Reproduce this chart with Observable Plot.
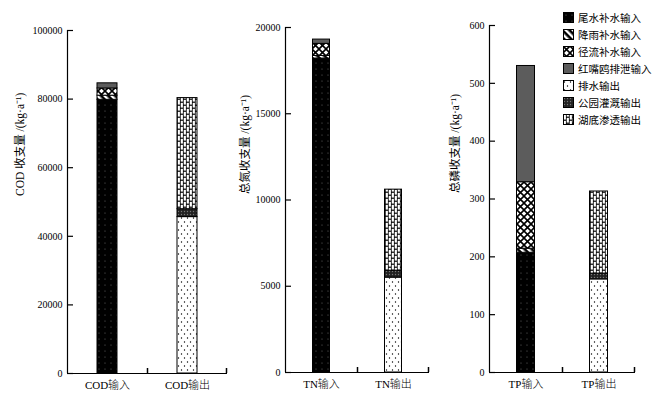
<!DOCTYPE html>
<html><head><meta charset="utf-8">
<script src="https://cdn.jsdelivr.net/npm/d3@7"></script>
<script src="https://cdn.jsdelivr.net/npm/@observablehq/plot@0.6"></script>
<style>
body{margin:0;background:#fff;}
#wrap{position:relative;width:655px;height:399px;overflow:hidden;background:#fff;font-family:"Liberation Serif","Noto Sans CJK SC",serif;}
.panel{position:absolute;top:0;}
#legend{position:absolute;left:563px;top:9px;font-size:10.5px;line-height:17px;color:#000;font-family:"Noto Sans CJK SC",sans-serif;}
#legend div{display:flex;align-items:center;height:17px;}
#legend svg{margin-right:4px;}
</style></head>
<body>
<svg width="0" height="0" style="position:absolute">
<defs>
<pattern id="p0" width="6" height="6" patternUnits="userSpaceOnUse"><rect width="6" height="6" fill="#000"/><circle cx="3" cy="3" r="0.6" fill="#666"/></pattern>
<pattern id="p1" width="5" height="5" patternUnits="userSpaceOnUse" patternTransform="rotate(-45)"><rect width="5" height="5" fill="#000"/><rect width="2.4" height="5" fill="#fff"/></pattern>
<pattern id="p2" width="7" height="7" patternUnits="userSpaceOnUse"><rect width="7" height="7" fill="#fff"/><path d="M0,0L7,7M7,0L0,7" stroke="#000" stroke-width="1.6"/></pattern>
<pattern id="p3" width="4" height="4" patternUnits="userSpaceOnUse"><rect width="4" height="4" fill="#5c5c5c"/></pattern>
<pattern id="p4" width="6" height="8" patternUnits="userSpaceOnUse"><rect width="6" height="8" fill="#fff"/><circle cx="1.5" cy="2" r="0.7" fill="#000"/><circle cx="4.5" cy="6" r="0.7" fill="#000"/></pattern>
<pattern id="p5" width="3" height="3" patternUnits="userSpaceOnUse"><rect width="3" height="3" fill="#222"/><circle cx="1.5" cy="1.5" r="0.7" fill="#777"/></pattern>
<pattern id="p6" width="6" height="12" patternUnits="userSpaceOnUse"><rect width="6" height="12" fill="#000"/><rect x="0.7" y="0.8" width="2.2" height="4.8" fill="#fff"/><rect x="0.7" y="6.8" width="2.2" height="4.8" fill="#fff"/><rect x="3.7" y="-2.2" width="2.2" height="4.8" fill="#fff"/><rect x="3.7" y="3.8" width="2.2" height="4.8" fill="#fff"/><rect x="3.7" y="9.8" width="2.2" height="4.8" fill="#fff"/></pattern>
</defs>
</svg>
<div id="wrap"><div id="legend"></div></div>
<script>
const series = ["尾水补水输入","降雨补水输入","径流补水输入","红嘴鸥排泄输入","排水输出","公园灌溉输出","湖底渗透输出"];
const fills = series.map((_, i) => `url(#p${i})`);

const codCats = ["COD输入","COD输出"];
const codIn = [79800, 1200, 2100, 1500];
const codOut = [45600, 2300, 32400];
const codTicks = [0, 20000, 40000, 60000, 80000, 100000];
const codLabel = "COD 收支量 /(kg·a⁻¹)";

const tnCats = ["TN输入","TN输出"];
const tnIn = [18200, 150, 700, 250];
const tnOut = [5500, 400, 4700];
const tnTicks = [0, 5000, 10000, 15000, 20000];
const tnLabel = "总氮收支量 /(kg·a⁻¹)";

const tpCats = ["TP输入","TP输出"];
const tpIn = [207, 7, 115, 201];
const tpOut = [161, 10, 142];
const tpTicks = [0, 100, 200, 300, 400, 500, 600];
const tpLabel = "总磷收支量 /(kg·a⁻¹)";

function panel({cats, inVals, outVals, ticks, label, left, width, ml, mr, mt, mb, inset, labelDx}) {
  const rows = [
    ...inVals.map((v, i) => ({cat: cats[0], series: series[i], value: v})),
    ...outVals.map((v, i) => ({cat: cats[1], series: series[4 + i], value: v}))
  ];
  const H = 399;
  const frameH = H - mt - mb;
  const frameW = width - ml - mr;
  const yMax = ticks[ticks.length - 1];
  const tickLen = yMax * 5 / frameH;
  const font = '"Liberation Serif","Noto Sans CJK SC",serif';
  const p = Plot.plot({
    width, height: H,
    marginLeft: ml, marginRight: mr, marginTop: mt, marginBottom: mb,
    style: {background: "transparent", fontFamily: font, color: "#000"},
    x: {domain: cats, padding: 0, label: null},
    y: {domain: [0, yMax], label: null},
    color: {domain: series, range: fills},
    marks: [
      Plot.barY(rows, {x: "cat", y: "value", fill: "series", stroke: "#000", strokeWidth: 1, insetLeft: inset, insetRight: inset}),
      Plot.ruleY([0], {stroke: "#000", strokeWidth: 1.2}),
      Plot.ruleX([0], {x: null, dx: -frameW / 2, y1: 0, y2: yMax, stroke: "#000", strokeWidth: 1.2}),
      Plot.ruleY(ticks, {y: d => d, insetRight: frameW - 6, stroke: "#000", strokeWidth: 1.2}),
      Plot.ruleX([0], {x: null, y1: 0, y2: tickLen, stroke: "#000", strokeWidth: 1.5}),
      Plot.ruleX([0], {x: null, dx: frameW / 2 - 1, y1: 0, y2: tickLen, stroke: "#000", strokeWidth: 1.5}),
      Plot.axisY(ticks, {tickSize: 0, tickPadding: 5, fontSize: 10, label: null, tickFormat: d => String(d)}),
      Plot.axisX(cats, {tickSize: 0, tickPadding: 8, fontSize: 11, fontWeight: 300, label: null}),
      Plot.text([label], {text: d => d, frameAnchor: "left", rotate: -90, dx: labelDx, dy: -6, fontSize: 11.5, fontFamily: font})
    ]
  });
  p.classList.add("panel");
  p.style.left = left + "px";
  document.getElementById("wrap").appendChild(p);
}

panel({cats: codCats, inVals: codIn, outVals: codOut, ticks: codTicks, label: codLabel, left: 0, width: 235, ml: 67, mr: 8, mt: 30, mb: 26, inset: 30, labelDx: -47});
panel({cats: tnCats, inVals: tnIn, outVals: tnOut, ticks: tnTicks, label: tnLabel, left: 235, width: 200, ml: 50, mr: 6, mt: 27, mb: 27, inset: 27.5, labelDx: -40});
panel({cats: tpCats, inVals: tpIn, outVals: tpOut, ticks: tpTicks, label: tpLabel, left: 440, width: 215, ml: 49, mr: 20, mt: 25, mb: 27, inset: 27.5, labelDx: -34});

const leg = document.getElementById("legend");
series.forEach((s, i) => {
  const row = document.createElement("div");
  row.innerHTML = `<svg width="11" height="11"><rect x="0.5" y="0.5" width="10" height="10" fill="${fills[i]}" stroke="#000"/></svg><span>${s}</span>`;
  leg.appendChild(row);
});
</script>
</body></html>
